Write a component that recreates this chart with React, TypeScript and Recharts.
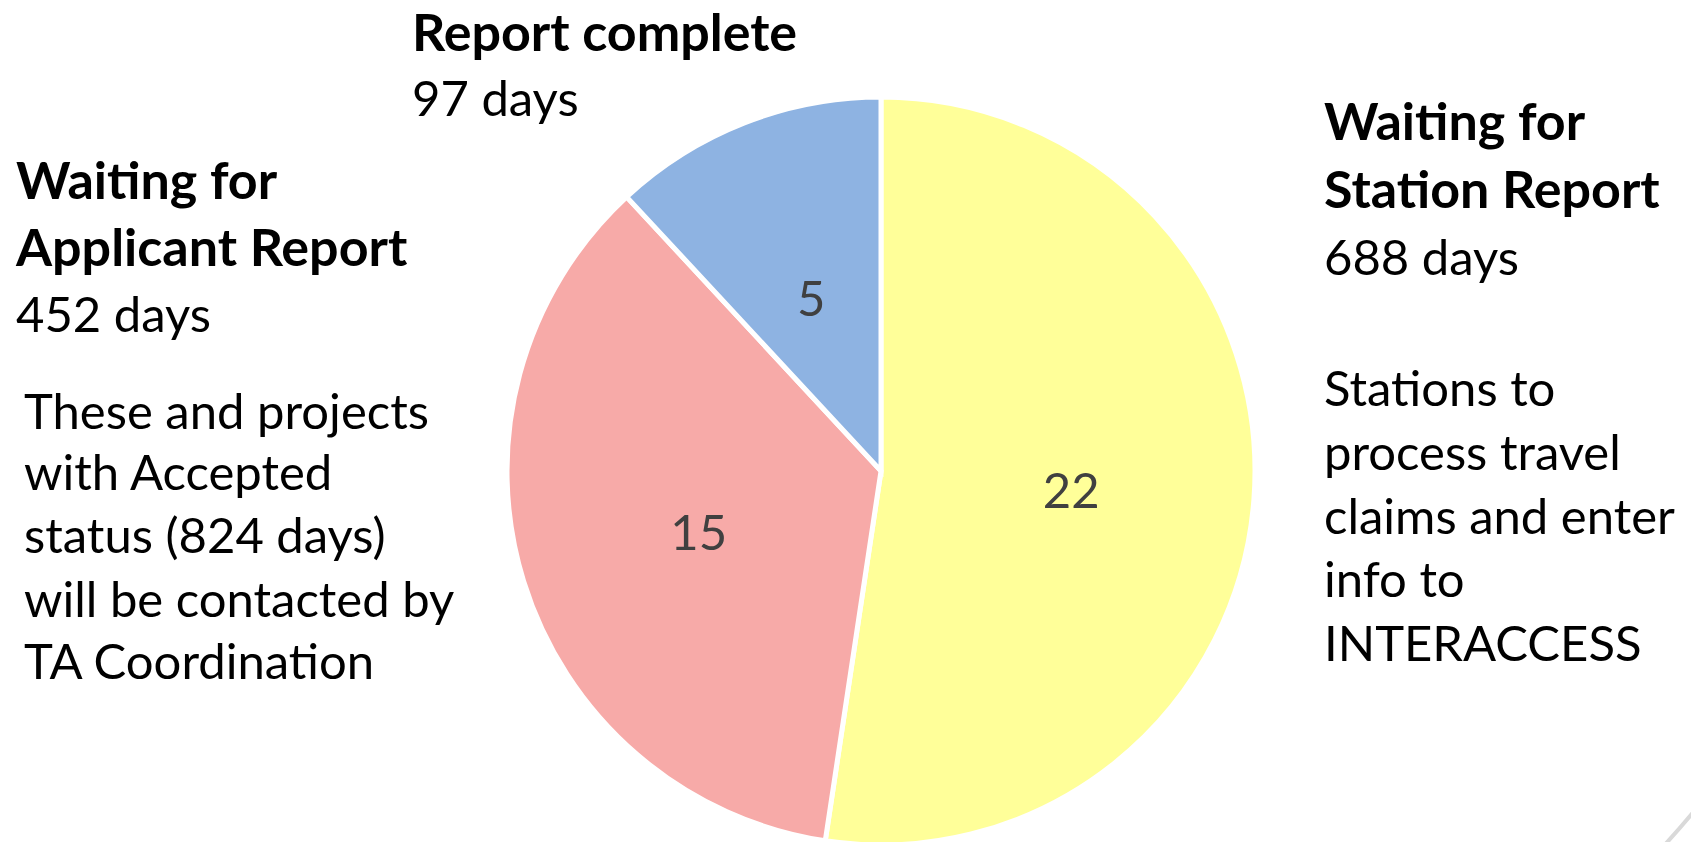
import React from "react";
import { PieChart, Pie, Cell } from "recharts";

const stages = ["Waiting for Station Report", "Waiting for Applicant Report", "Report complete"];
const counts = [22, 15, 5];
const days = ["688 days", "452 days", "97 days"];
const colors = ["#FFFF99", "#F7AAA8", "#8EB3E2"];

const data = stages.map((name, i) => ({ name, value: counts[i] }));

const W = 1691;
const H = 842;
const CX = 881;
const CY = 471;
const R = 374;
const FONT = "Lato, 'Open Sans', sans-serif";
const FS = 49;
const FS_BOLD = 52;

const RADIAN = Math.PI / 180;

const renderLabel = (props: any) => {
  const { cx, cy, midAngle, outerRadius, value } = props;
  const r = outerRadius * 0.51;
  const x = cx + r * Math.cos(-midAngle * RADIAN);
  const y = cy + r * Math.sin(-midAngle * RADIAN);
  return (
    <text x={x} y={y + 4} fill="#404040" fontSize={FS} fontFamily={FONT} textAnchor="middle" dominantBaseline="central">
      {value}
    </text>
  );
};

type Block = { x: number; lines: { t: string; y: number; bold?: boolean }[] };

const notes: Block[] = [
  {
    x: 412,
    lines: [
      { t: "Report complete", y: 51, bold: true },
      { t: days[2], y: 116 },
    ],
  },
  {
    x: 16,
    lines: [
      { t: "Waiting for", y: 199, bold: true },
      { t: "Applicant Report", y: 266, bold: true },
      { t: days[1], y: 332 },
    ],
  },
  {
    x: 24,
    lines: [
      { t: "These and projects", y: 429 },
      { t: "with Accepted", y: 490 },
      { t: "status (824 days)", y: 553 },
      { t: "will be contacted by", y: 617 },
      { t: "TA Coordination", y: 679 },
    ],
  },
  {
    x: 1324,
    lines: [
      { t: "Waiting for", y: 140, bold: true },
      { t: "Station Report", y: 208, bold: true },
      { t: days[0], y: 275 },
      { t: "Stations to", y: 406 },
      { t: "process travel", y: 470 },
      { t: "claims and enter", y: 534 },
      { t: "info to", y: 597 },
      { t: "INTERACCESS", y: 661 },
    ],
  },
];

export default function App() {
  return (
    <div style={{ position: "fixed", left: 0, top: 0, width: W, height: H, background: "#fff", overflow: "hidden" }}>
      <PieChart width={W} height={H} margin={{ top: 0, right: 0, bottom: 0, left: 0 }}>
        <Pie
          data={data}
          dataKey="value"
          cx={CX}
          cy={CY}
          outerRadius={R}
          startAngle={90}
          endAngle={-270}
          stroke="#fff"
          strokeWidth={5}
          label={renderLabel}
          labelLine={false}
          isAnimationActive={false}
        >
          {data.map((d, i) => (
            <Cell key={d.name} fill={colors[i]} />
          ))}
        </Pie>
      </PieChart>
      <svg width={W} height={H} style={{ position: "absolute", left: 0, top: 0, pointerEvents: "none" }}>
        {/* slide decoration arc in the bottom-right corner */}
        <path d="M 1658 852 A 800 800 0 0 0 1700 804" fill="none" stroke="#d9d9d9" strokeWidth={4} />
        {notes.map((b, bi) =>
          b.lines.map((l, li) => (
            <text
              key={bi + "-" + li}
              x={b.x}
              y={l.y}
              fontFamily={FONT}
              fontSize={l.bold ? FS_BOLD : FS}
              fontWeight={l.bold ? 700 : 400}
              fill="#000"
            >
              {l.t}
            </text>
          ))
        )}
      </svg>
    </div>
  );
}
